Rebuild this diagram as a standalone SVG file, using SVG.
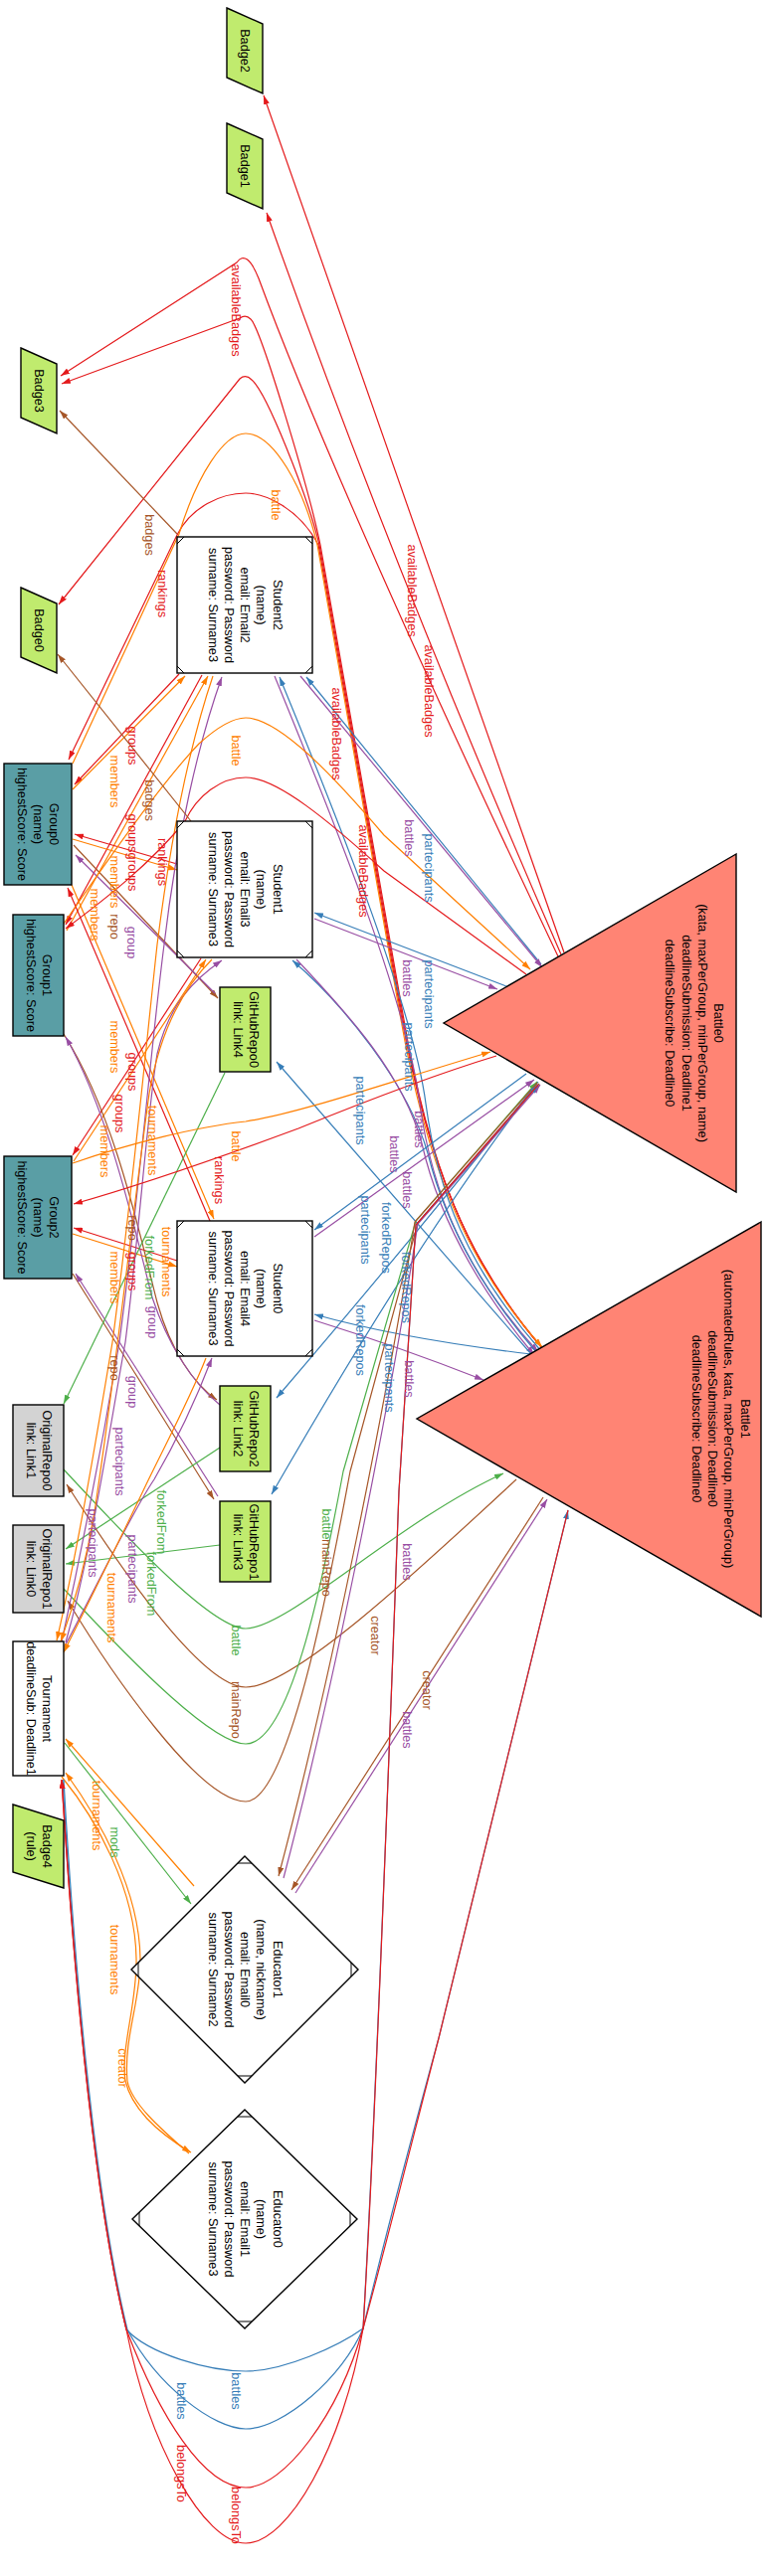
<svg xmlns="http://www.w3.org/2000/svg" width="772" height="2591" viewBox="0 0 772 2591">
<style>
.n{stroke:#000;stroke-width:1.4}
.c{stroke:#000;stroke-width:1;fill:none}
.t{font-family:"Liberation Sans",Arial,sans-serif;font-size:12.7px;fill:#000;text-anchor:middle}
.e{fill:none;stroke-width:1.2}
.r{stroke:#E41A1C}.b{stroke:#377EB8}.g{stroke:#4DAF4A}.p{stroke:#984EA3}.o{stroke:#FF7F00}.w{stroke:#A65628}
.l{font-family:"Liberation Sans",Arial,sans-serif;font-size:12.7px;text-anchor:middle}
.lr{fill:#E41A1C}.lb{fill:#377EB8}.lg{fill:#4DAF4A}.lp{fill:#984EA3}.lo{fill:#FF7F00}.lw{fill:#A65628}
.bg{fill:#C0EB6E}.gr{fill:#5A9EA5}.bt{fill:#FF8474}.og{fill:#D3D3D3}.wh{fill:#fff}
</style>
<defs>
<marker id="mR" viewBox="0 0 9 6" refX="9" refY="3" markerWidth="9" markerHeight="6" orient="auto" markerUnits="userSpaceOnUse"><path d="M0,0L9,3L0,6z" fill="#E41A1C"/></marker>
<marker id="mB" viewBox="0 0 9 6" refX="9" refY="3" markerWidth="9" markerHeight="6" orient="auto" markerUnits="userSpaceOnUse"><path d="M0,0L9,3L0,6z" fill="#377EB8"/></marker>
<marker id="mG" viewBox="0 0 9 6" refX="9" refY="3" markerWidth="9" markerHeight="6" orient="auto" markerUnits="userSpaceOnUse"><path d="M0,0L9,3L0,6z" fill="#4DAF4A"/></marker>
<marker id="mP" viewBox="0 0 9 6" refX="9" refY="3" markerWidth="9" markerHeight="6" orient="auto" markerUnits="userSpaceOnUse"><path d="M0,0L9,3L0,6z" fill="#984EA3"/></marker>
<marker id="mO" viewBox="0 0 9 6" refX="9" refY="3" markerWidth="9" markerHeight="6" orient="auto" markerUnits="userSpaceOnUse"><path d="M0,0L9,3L0,6z" fill="#FF7F00"/></marker>
<marker id="mW" viewBox="0 0 9 6" refX="9" refY="3" markerWidth="9" markerHeight="6" orient="auto" markerUnits="userSpaceOnUse"><path d="M0,0L9,3L0,6z" fill="#A65628"/></marker>
</defs>
<rect width="772" height="2591" fill="#fff"/>
<g id="edges">
<path class="e r" marker-end="url(#mR)" d="M567,958 L265,96"/>
<path class="e r" marker-end="url(#mR)" d="M564,960 Q390,560 268,214"/>
<path class="e r" marker-end="url(#mR)" d="M561,962 C470,770 330,470 260,280 Q248,250 238,264 L61,378"/>
<path class="e r" marker-end="url(#mR)" d="M546,1357 C470,1270 430,1170 405,1020 L322,548 C310,490 262,330 252,321 Q247,316 241,320 L62,386"/>
<path class="e r" marker-end="url(#mR)" d="M546,1357 C470,1270 430,1170 404,1020 L321,548 C308,495 268,395 253,382 Q247,376 241,381 L59,608"/>
<path class="e r" marker-end="url(#mR)" d="M546,1357 C470,1270 430,1170 403,1020 L320,548 C300,510 265,496 247,496 C222,496 192,510 178,538 L69,764"/>
<path class="e o" marker-end="url(#mO)" d="M73,768 L180,537 C198,478 225,436 247,436 C275,436 305,490 319,548 L402,1020 C428,1170 468,1270 545,1355"/>
<path class="e b" marker-end="url(#mB)" d="M544,1359 C470,1275 440,1200 428,1110 C415,1010 330,800 281,681"/>
<path class="e p" marker-end="url(#mP)" d="M276,680 C325,800 408,1000 422,1110 C434,1200 468,1280 541,1360"/>
<path class="e b" marker-end="url(#mB)" d="M540,1361 C478,1290 445,1220 430,1160 C410,1090 345,1010 294,966"/>
<path class="e p" marker-end="url(#mP)" d="M298,965 C350,1020 405,1080 424,1150 C440,1220 476,1290 537,1363"/>
<path class="e b" marker-end="url(#mB)" d="M544,970 L308,681"/>
<path class="e p" marker-end="url(#mP)" d="M302,680 L545,973"/>
<path class="e b" marker-end="url(#mB)" d="M509,992 L316,918"/>
<path class="e p" marker-end="url(#mP)" d="M316,924 L500,995"/>
<path class="e b" marker-end="url(#mB)" d="M529,1080 L316,1237"/>
<path class="e p" marker-end="url(#mP)" d="M316,1244 L537,1086"/>
<path class="e b" marker-end="url(#mB)" d="M534,1362 C450,1352 380,1340 316,1322"/>
<path class="e p" marker-end="url(#mP)" d="M316,1328 C380,1348 430,1366 486,1388"/>
<path class="e r" marker-end="url(#mR)" d="M180,678 L75,789"/>
<path class="e o" marker-end="url(#mO)" d="M73,794 L186,680"/>
<path class="e r" marker-end="url(#mR)" d="M203,679 L66,930"/>
<path class="e o" marker-end="url(#mO)" d="M67,936 L209,680"/>
<path class="e r" marker-end="url(#mR)" d="M178,869 L75,839"/>
<path class="e o" marker-end="url(#mO)" d="M73,844 L178,875"/>
<path class="e r" marker-end="url(#mR)" d="M211,1228 L68,893"/>
<path class="e o" marker-end="url(#mO)" d="M72,890 L215,1226"/>
<path class="e r" marker-end="url(#mR)" d="M202,964 L73,1162"/>
<path class="e o" marker-end="url(#mO)" d="M74,1168 L207,965"/>
<path class="e r" marker-end="url(#mR)" d="M178,1268 L74,1235"/>
<path class="e o" marker-end="url(#mO)" d="M73,1241 L178,1274"/>
<path class="e w" marker-end="url(#mW)" d="M74,850 L219,1004"/>
<path class="e p" marker-end="url(#mP)" d="M216,999 L76,860"/>
<path class="e w" marker-end="url(#mW)" d="M64,1040 C115,1120 140,1240 158,1310 C172,1360 195,1392 218,1408"/>
<path class="e p" marker-end="url(#mP)" d="M221,1413 C192,1390 168,1350 153,1305 C135,1235 110,1120 66,1043"/>
<path class="e w" marker-end="url(#mW)" d="M73,1281 L215,1508"/>
<path class="e p" marker-end="url(#mP)" d="M219,1505 L76,1281"/>
<path class="e g" marker-end="url(#mG)" d="M226,1079 L64,1412"/>
<path class="e g" marker-end="url(#mG)" d="M221,1456 L66,1558"/>
<path class="e g" marker-end="url(#mG)" d="M221,1554 L66,1573"/>
<path class="e b" marker-end="url(#mB)" d="M534,1362 L278,1068"/>
<path class="e b" marker-end="url(#mB)" d="M541,1088 Q420,1240 278,1406"/>
<path class="e b" marker-end="url(#mB)" d="M540,1090 Q430,1230 273,1503"/>
<path class="e g" marker-end="url(#mG)" d="M64,1478 C140,1560 215,1638 247,1638 C290,1638 400,1530 506,1482"/>
<path class="e w" marker-end="url(#mW)" d="M519,1488 C420,1580 295,1697 247,1697 C200,1697 110,1560 67,1493"/>
<path class="e g" marker-end="url(#mG)" d="M64,1598 C140,1680 215,1754 247,1754 C295,1754 330,1560 345,1480 L418,1228 L540,1088"/>
<path class="e w" marker-end="url(#mW)" d="M542,1090 L420,1230 L352,1480 C335,1570 292,1812 247,1812 C200,1812 110,1680 68,1610"/>
<path class="e w" marker-end="url(#mW)" d="M540,1089 L417,1229 C390,1400 335,1680 280,1887"/>
<path class="e p" marker-end="url(#mP)" d="M285,1889 C340,1680 394,1400 420,1231 L543,1091"/>
<path class="e w" marker-end="url(#mW)" d="M546,1506 L293,1901"/>
<path class="e p" marker-end="url(#mP)" d="M297,1904 L550,1508"/>
<path class="e o" marker-end="url(#mO)" d="M195,1897 L66,1749"/>
<path class="e g" marker-end="url(#mG)" d="M65,1753 L192,1915"/>
<path class="e o" marker-end="url(#mO)" d="M190,2166 C160,2140 132,2115 128,2093 C124,2050 142,2010 141,1970 C140,1900 100,1830 66,1783"/>
<path class="e o" marker-end="url(#mO)" d="M62,1787 C97,1830 136,1900 137,1970 C138,2015 121,2060 126,2093 C133,2122 160,2146 192,2165"/>
<path class="e b" marker-end="url(#mB)" d="M63,1790 C72,1950 92,2200 127,2343 C150,2368 210,2385 247,2385 C285,2385 340,2360 365,2342 C376,2150 390,1800 401,1500 L418,1232 L541,1091"/>
<path class="e b" marker-end="url(#mB)" d="M64,1790 C73,1950 93,2200 128,2343 C158,2400 215,2443 247,2443 C285,2443 345,2390 365,2342 C375,2300 400,2200 441,2050 L571,1519"/>
<path class="e r" marker-end="url(#mR)" d="M571,1519 L441,2050 C410,2170 385,2270 365,2342 C340,2430 285,2502 247,2502 C205,2502 160,2430 127,2343 C92,2200 72,1950 62,1790"/>
<path class="e r" marker-end="url(#mR)" d="M541,1091 L418,1232 L401,1500 C390,1800 377,2150 365,2342 C345,2460 290,2558 247,2558 C205,2558 150,2460 127,2343 C92,2200 72,1950 62,1790"/>
<path class="e p" marker-end="url(#mP)" d="M62,1651 C82,1560 105,1440 120,1350 C140,1200 152,1050 165,950 C178,840 200,745 223,681"/>
<path class="e o" marker-end="url(#mO)" d="M214,680 C192,745 172,840 158,950 C147,1050 133,1200 113,1350 C98,1440 78,1560 57,1650"/>
<path class="e p" marker-end="url(#mP)" d="M66,1652 C92,1560 108,1450 126,1350 C140,1240 148,1120 158,1060 C170,1010 195,985 223,966"/>
<path class="e o" marker-end="url(#mO)" d="M213,965 C188,990 162,1030 150,1100 C136,1200 116,1380 98,1500 C90,1560 76,1610 61,1651"/>
<path class="e p" marker-end="url(#mP)" d="M65,1656 C100,1590 133,1520 155,1488 C180,1445 200,1400 213,1366"/>
<path class="e o" marker-end="url(#mO)" d="M207,1366 C193,1402 168,1450 147,1493 C120,1550 90,1610 64,1662"/>
<path class="e o" marker-end="url(#mO)" d="M64,929 C105,870 160,790 200,748 C220,730 236,722 247,722 C280,722 335,780 386,840 L533,975"/>
<path class="e r" marker-end="url(#mR)" d="M529,980 L386,876 C330,825 278,782 247,782 C222,782 198,800 186,826 C150,870 105,905 66,934"/>
<path class="e o" marker-end="url(#mO)" d="M73,1170 C130,1150 200,1133 247,1128 C300,1120 386,1090 493,1058"/>
<path class="e r" marker-end="url(#mR)" d="M499,1062 C440,1080 386,1100 300,1135 C200,1172 120,1198 74,1211"/>
<path class="e w" marker-end="url(#mW)" d="M178,537 L60,413"/>
<path class="e w" marker-end="url(#mW)" d="M192,826 L58,658"/>
</g>
<g id="edge-labels">
<text class="l lr" transform="translate(233.2,312) rotate(90)">availableBadges</text>
<text class="l lr" transform="translate(410.2,594) rotate(90)">availableBadges</text>
<text class="l lr" transform="translate(427.2,695) rotate(90)">availableBadges</text>
<text class="l lr" transform="translate(334.2,738) rotate(90)">availableBadges</text>
<text class="l lr" transform="translate(361.2,876) rotate(90)">availableBadges</text>
<text class="l lw" transform="translate(146.2,538) rotate(90)">badges</text>
<text class="l lw" transform="translate(146.2,805) rotate(90)">badges</text>
<text class="l lr" transform="translate(159.2,597) rotate(90)">rankings</text>
<text class="l lr" transform="translate(159.2,867) rotate(90)">rankings</text>
<text class="l lr" transform="translate(216.2,1187) rotate(90)">rankings</text>
<text class="l lo" transform="translate(273.2,508) rotate(90)">battle</text>
<text class="l lo" transform="translate(233.2,755) rotate(90)">battle</text>
<text class="l lo" transform="translate(233.2,1153) rotate(90)">battle</text>
<text class="l lr" transform="translate(129.2,750) rotate(90)">groups</text>
<text class="l lr" transform="translate(129.2,838) rotate(90)">groups</text>
<text class="l lr" transform="translate(129.2,877) rotate(90)">groups</text>
<text class="l lr" transform="translate(129.2,1078) rotate(90)">groups</text>
<text class="l lr" transform="translate(116.2,1120) rotate(90)">groups</text>
<text class="l lr" transform="translate(129.2,1279) rotate(90)">groups</text>
<text class="l lo" transform="translate(111.2,786) rotate(90)">members</text>
<text class="l lo" transform="translate(111.2,887) rotate(90)">members</text>
<text class="l lo" transform="translate(91.2,920) rotate(90)">members</text>
<text class="l lo" transform="translate(111.2,1053) rotate(90)">members</text>
<text class="l lo" transform="translate(101.2,1158) rotate(90)">members</text>
<text class="l lo" transform="translate(111.2,1285) rotate(90)">members</text>
<text class="l lw" transform="translate(111.2,932) rotate(90)">repo</text>
<text class="l lw" transform="translate(129.2,1235) rotate(90)">repo</text>
<text class="l lw" transform="translate(111.2,1376) rotate(90)">repo</text>
<text class="l lp" transform="translate(128.2,948) rotate(90)">group</text>
<text class="l lp" transform="translate(149.2,1330) rotate(90)">group</text>
<text class="l lp" transform="translate(129.2,1400) rotate(90)">group</text>
<text class="l lb" transform="translate(427.2,873) rotate(90)">partecipants</text>
<text class="l lb" transform="translate(427.2,1000) rotate(90)">partecipants</text>
<text class="l lb" transform="translate(407.2,1063) rotate(90)">partecipants</text>
<text class="l lb" transform="translate(358.2,1117) rotate(90)">partecipants</text>
<text class="l lb" transform="translate(363.2,1237) rotate(90)">partecipants</text>
<text class="l lb" transform="translate(387.2,1386) rotate(90)">partecipants</text>
<text class="l lp" transform="translate(407.2,843) rotate(90)">battles</text>
<text class="l lp" transform="translate(405.2,984) rotate(90)">battles</text>
<text class="l lp" transform="translate(417.2,1136) rotate(90)">battles</text>
<text class="l lp" transform="translate(392.2,1161) rotate(90)">battles</text>
<text class="l lp" transform="translate(405.2,1197) rotate(90)">battles</text>
<text class="l lp" transform="translate(407.2,1387) rotate(90)">battles</text>
<text class="l lp" transform="translate(405.2,1571) rotate(90)">battles</text>
<text class="l lp" transform="translate(405.2,1740) rotate(90)">battles</text>
<text class="l lb" transform="translate(358.2,1348) rotate(90)">forkedRepos</text>
<text class="l lb" transform="translate(404.2,1295) rotate(90)">forkedRepos</text>
<text class="l lb" transform="translate(384.2,1245) rotate(90)">forkedRepos</text>
<text class="l lg" transform="translate(146.2,1275) rotate(90)">forkedFrom</text>
<text class="l lg" transform="translate(158.2,1531) rotate(90)">forkedFrom</text>
<text class="l lg" transform="translate(148.2,1593) rotate(90)">forkedFrom</text>
<text class="l lo" transform="translate(149.2,1147) rotate(90)">tournaments</text>
<text class="l lo" transform="translate(163.2,1269) rotate(90)">tournaments</text>
<text class="l lo" transform="translate(108.2,1617) rotate(90)">tournaments</text>
<text class="l lo" transform="translate(93.2,1826) rotate(90)">tournaments</text>
<text class="l lo" transform="translate(111.2,1971) rotate(90)">tournaments</text>
<text class="l lp" transform="translate(116.2,1470) rotate(90)">partecipants</text>
<text class="l lp" transform="translate(89.2,1552) rotate(90)">partecipants</text>
<text class="l lp" transform="translate(129.2,1578) rotate(90)">partecipants</text>
<text class="l lg" transform="translate(233.2,1650) rotate(90)">battle</text>
<text class="l lg" transform="translate(324.2,1533) rotate(90)">battle</text>
<text class="l lw" transform="translate(233.2,1720) rotate(90)">mainRepo</text>
<text class="l lw" transform="translate(324.2,1577) rotate(90)">mainRepo</text>
<text class="l lw" transform="translate(373.2,1645) rotate(90)">creator</text>
<text class="l lw" transform="translate(425.2,1700) rotate(90)">creator</text>
<text class="l lo" transform="translate(119.2,2080) rotate(90)">creator</text>
<text class="l lg" transform="translate(111.2,1853) rotate(90)">mods</text>
<text class="l lb" transform="translate(233.2,2405) rotate(90)">battles</text>
<text class="l lb" transform="translate(178.2,2415) rotate(90)">battles</text>
<text class="l lr" transform="translate(178.2,2488) rotate(90)">belongsTo</text>
<text class="l lr" transform="translate(233.2,2530) rotate(90)">belongsTo</text>
</g>
<g id="Badge2"><polygon class="n bg" points="228,8 264,24 264,94 228,78"/><text class="t" transform="translate(242.2,51) rotate(90)">Badge2</text></g>
<g id="Badge1"><polygon class="n bg" points="228,124 264,140 264,210 228,194"/><text class="t" transform="translate(242.2,167) rotate(90)">Badge1</text></g>
<g id="Badge3"><polygon class="n bg" points="21,350 57,366 57,436 21,420"/><text class="t" transform="translate(35.2,393) rotate(90)">Badge3</text></g>
<g id="Badge0"><polygon class="n bg" points="21,591 57,607 57,677 21,661"/><text class="t" transform="translate(35.2,634) rotate(90)">Badge0</text></g>
<g id="Badge4"><polygon class="n bg" points="13,1815 64,1831 64,1899 13,1883"/><text class="t" transform="translate(42.8,1857) rotate(90)"><tspan x="0" y="0">Badge4</tspan><tspan x="0" y="16.2">(rule)</tspan></text></g>
<g id="Student2"><rect class="n wh" x="178" y="540" width="136" height="137"/><path class="c" d="M178,547L185,540M307,540L314,547M178,670L185,677M307,677L314,670"/><text class="t" transform="translate(274.6,608.5) rotate(90)"><tspan x="0" y="0">Student2</tspan><tspan x="0" y="16.2">(name)</tspan><tspan x="0" y="32.4">email: Email2</tspan><tspan x="0" y="48.6">password: Password</tspan><tspan x="0" y="64.8">surname: Surname3</tspan></text></g>
<g id="Student1"><rect class="n wh" x="178" y="826" width="136" height="137"/><path class="c" d="M178,833L185,826M307,826L314,833M178,956L185,963M307,963L314,956"/><text class="t" transform="translate(274.6,894.5) rotate(90)"><tspan x="0" y="0">Student1</tspan><tspan x="0" y="16.2">(name)</tspan><tspan x="0" y="32.4">email: Email3</tspan><tspan x="0" y="48.6">password: Password</tspan><tspan x="0" y="64.8">surname: Surname3</tspan></text></g>
<g id="Student0"><rect class="n wh" x="178" y="1228" width="136" height="136"/><path class="c" d="M178,1235L185,1228M307,1228L314,1235M178,1357L185,1364M307,1364L314,1357"/><text class="t" transform="translate(274.6,1296) rotate(90)"><tspan x="0" y="0">Student0</tspan><tspan x="0" y="16.2">(name)</tspan><tspan x="0" y="32.4">email: Email4</tspan><tspan x="0" y="48.6">password: Password</tspan><tspan x="0" y="64.8">surname: Surname3</tspan></text></g>
<g id="Group0"><rect class="n gr" x="4" y="768" width="68" height="122"/><text class="t" transform="translate(50.4,829) rotate(90)"><tspan x="0" y="0">Group0</tspan><tspan x="0" y="16.2">(name)</tspan><tspan x="0" y="32.4">highestScore: Score</tspan></text></g>
<g id="Group1"><rect class="n gr" x="13" y="920" width="51" height="122"/><text class="t" transform="translate(42.8,981) rotate(90)"><tspan x="0" y="0">Group1</tspan><tspan x="0" y="16.2">highestScore: Score</tspan></text></g>
<g id="Group2"><rect class="n gr" x="4" y="1163" width="68" height="123"/><text class="t" transform="translate(50.4,1224.5) rotate(90)"><tspan x="0" y="0">Group2</tspan><tspan x="0" y="16.2">(name)</tspan><tspan x="0" y="32.4">highestScore: Score</tspan></text></g>
<g id="GitHubRepo0"><rect class="n bg" x="221" y="993" width="51" height="85"/><text class="t" transform="translate(250.8,1035.5) rotate(90)"><tspan x="0" y="0">GitHubRepo0</tspan><tspan x="0" y="16.2">link: Link4</tspan></text></g>
<g id="GitHubRepo2"><rect class="n bg" x="221" y="1394" width="51" height="86"/><text class="t" transform="translate(250.8,1437) rotate(90)"><tspan x="0" y="0">GitHubRepo2</tspan><tspan x="0" y="16.2">link: Link2</tspan></text></g>
<g id="GitHubRepo1"><rect class="n bg" x="221" y="1510" width="51" height="81"/><text class="t" transform="translate(250.8,1551) rotate(90)"><tspan x="0" y="0">GitHubRepo1</tspan><tspan x="0" y="16.2">link: Link3</tspan></text></g>
<g id="OriginalRepo0"><rect class="n og" x="13" y="1413" width="51" height="92"/><text class="t" transform="translate(42.8,1459) rotate(90)"><tspan x="0" y="0">OriginalRepo0</tspan><tspan x="0" y="16.2">link: Link1</tspan></text></g>
<g id="OriginalRepo1"><rect class="n og" x="13" y="1534" width="51" height="88"/><text class="t" transform="translate(42.8,1578) rotate(90)"><tspan x="0" y="0">OriginalRepo1</tspan><tspan x="0" y="16.2">link: Link0</tspan></text></g>
<g id="Tournament"><rect class="n wh" x="13" y="1651" width="51" height="135"/><text class="t" transform="translate(42.8,1718.5) rotate(90)"><tspan x="0" y="0">Tournament</tspan><tspan x="0" y="16.2">deadlineSub: Deadline1</tspan></text></g>
<g id="Educator1"><polygon class="n wh" points="246,1867 360,1981 246,2095 132,1981"/><path class="c" d="M239,1874L253,1874M353,1974L353,1988M239,2088L253,2088M139,1974L139,1988"/><text class="t" transform="translate(274.6,1981) rotate(90)"><tspan x="0" y="0">Educator1</tspan><tspan x="0" y="16.2">(name, nickname)</tspan><tspan x="0" y="32.4">email: Email0</tspan><tspan x="0" y="48.6">password: Password</tspan><tspan x="0" y="64.8">surname: Surname2</tspan></text></g>
<g id="Educator0"><polygon class="n wh" points="246,2122 359,2232 246,2342 133,2232"/><path class="c" d="M239,2129L253,2129M352,2225L352,2239M239,2335L253,2335M140,2225L140,2239"/><text class="t" transform="translate(274.6,2232) rotate(90)"><tspan x="0" y="0">Educator0</tspan><tspan x="0" y="16.2">(name)</tspan><tspan x="0" y="32.4">email: Email1</tspan><tspan x="0" y="48.6">password: Password</tspan><tspan x="0" y="64.8">surname: Surname3</tspan></text></g>
<g id="Battle0"><polygon class="n bt" points="740,859 446,1029 740,1199"/><text class="t" transform="translate(718,1029) rotate(90)"><tspan x="0" y="0">Battle0</tspan><tspan x="0" y="16.2">(kata, maxPerGroup, minPerGroup, name)</tspan><tspan x="0" y="32.4">deadlineSubmission: Deadline1</tspan><tspan x="0" y="48.6">deadlineSubscribe: Deadline0</tspan></text></g>
<g id="Battle1"><polygon class="n bt" points="765,1229 419,1427 765,1626"/><text class="t" transform="translate(744.5,1427) rotate(90)"><tspan x="0" y="0">Battle1</tspan><tspan x="0" y="16.2">(automatedRules, kata, maxPerGroup, minPerGroup)</tspan><tspan x="0" y="32.4">deadlineSubmission: Deadline0</tspan><tspan x="0" y="48.6">deadlineSubscribe: Deadline0</tspan></text></g>
</svg>
